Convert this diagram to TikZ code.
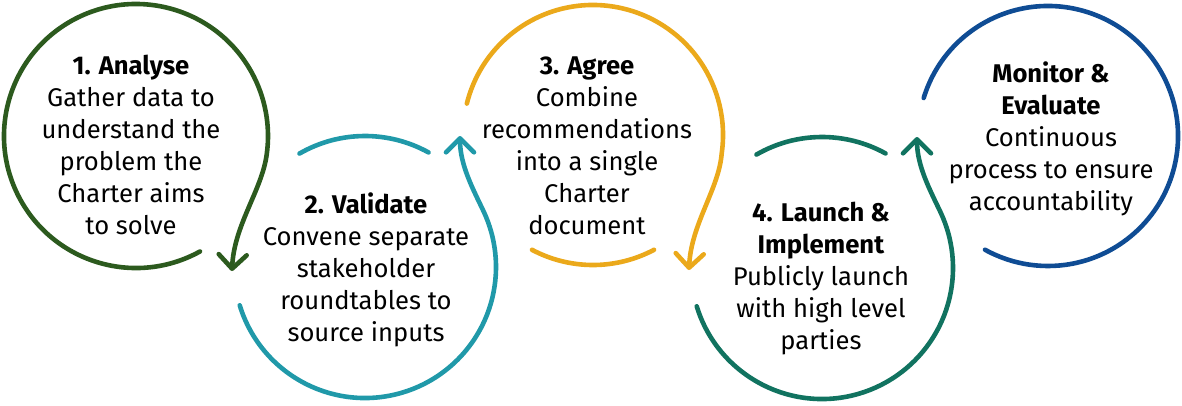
\documentclass[tikz,border=0pt]{standalone}
\usepackage{fontspec}
\setmainfont{Fira Sans}
\usetikzlibrary{arrows.meta}

\definecolor{analysegreen}{HTML}{2C5A1E}
\definecolor{validteal}{HTML}{2099A9}
\definecolor{agreegold}{HTML}{EBA91B}
\definecolor{launchgreen}{HTML}{117360}
\definecolor{monitorblue}{HTML}{0F4C94}

\begin{document}
\begin{tikzpicture}[x=1pt, y=-1pt,
  ring/.style={line width=4.6pt, line cap=round},
  barbtip/.style={-{Straight Barb[length=14pt, width=28pt, round]}},
  stagetext/.style={align=center, inner sep=0pt, text=black,
    font=\fontsize{25.6}{32}\selectfont}]
\useasboundingbox (0,0) rectangle (1182,405);

% centres of the five stage rings
\coordinate (c1) at (136,136);
\coordinate (c2) at (365,267);
\coordinate (c3) at (593,135);
\coordinate (c4) at (822,268);
\coordinate (c5) at (1048,136);

% arrow tips where each ring hands over to the next
\coordinate (t1) at (232,271);
\coordinate (t2) at (460,136);
\coordinate (t3) at (689,270);
\coordinate (t4) at (917,137);

% 1. Analyse
\draw[ring, analysegreen, barbtip]
  ([shift={(61:132)}]c1) arc[start angle=61, end angle=368, radius=132]
  .. controls (262,190) and (234,225) .. (t1);

% 2. Validate
\draw[ring, validteal]
  ([shift={(-120:131)}]c2) arc[start angle=-120, end angle=-61, radius=131];
\draw[ring, validteal, barbtip]
  ([shift={(-197:131)}]c2) arc[start angle=-197, end angle=-385, radius=131]
  .. controls (473,189) and (460,165) .. (t2);

% 3. Agree
\draw[ring, agreegold]
  ([shift={(118:130)}]c3) arc[start angle=118, end angle=62, radius=130];
\draw[ring, agreegold, barbtip]
  ([shift={(-166:130)}]c3) arc[start angle=-166, end angle=8, radius=130]
  .. controls (719,189) and (691,224) .. (t3);

% 4. Launch & Implement
\draw[ring, launchgreen]
  ([shift={(-120:131)}]c4) arc[start angle=-120, end angle=-61, radius=131];
\draw[ring, launchgreen, barbtip]
  ([shift={(-197:131)}]c4) arc[start angle=-197, end angle=-385, radius=131]
  .. controls (930,190) and (917,166) .. (t4);

% Monitor & Evaluate
\draw[ring, monitorblue]
  ([shift={(-163:130)}]c5) arc[start angle=-163, end angle=119, radius=130];

% stage descriptions
\node[stagetext] (s1) at (131,145)
  {\textbf{1. Analyse}\\Gather data to\\understand the\\problem the\\Charter aims\\to solve};
\node[stagetext] (s2) at (366,269.5)
  {\textbf{2. Validate}\\Convene separate\\stakeholder\\roundtables to\\source inputs};
\node[stagetext] (s3) at (587,145.5)
  {\textbf{3. Agree}\\Combine\\recommendations\\into a single\\Charter\\document};
\node[stagetext] (s4) at (821,278.5)
  {\textbf{4. Launch \&}\\\textbf{Implement}\\Publicly launch\\with high level\\parties};
\node[stagetext] (s5) at (1051,138.5)
  {\textbf{Monitor \&}\\\textbf{Evaluate}\\Continuous\\process to ensure\\accountability};
\end{tikzpicture}
\end{document}
